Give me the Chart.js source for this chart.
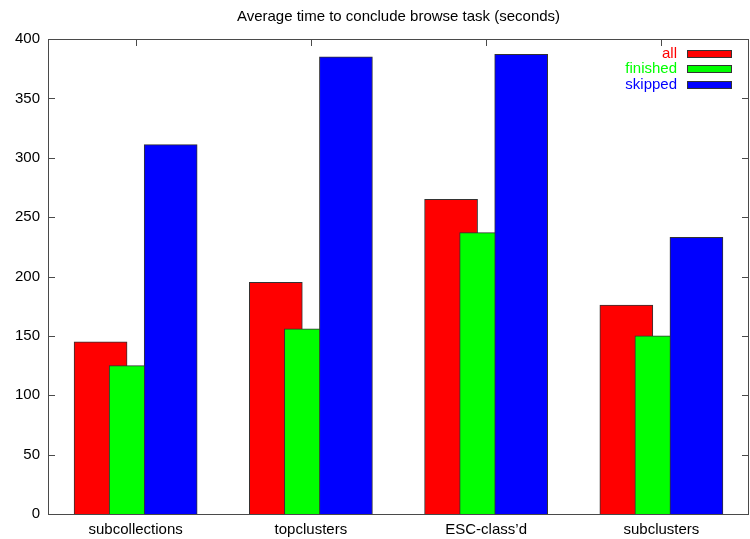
<!DOCTYPE html>
<html>
<head>
<meta charset="utf-8">
<script src="https://cdn.jsdelivr.net/npm/chart.js@4"></script>
<style>
  html, body { margin: 0; padding: 0; background: #fff; }
  #wrap { width: 750px; height: 539px; position: relative; }
</style>
</head>
<body>
<div id="wrap"><canvas id="c"></canvas></div>
<script>
  // ── Data ──
  var TITLE = 'Average time to conclude browse task (seconds)';
  var CATEGORIES = ['subcollections', 'topclusters', 'ESC-class\u2019d', 'subclusters'];
  var ALL      = [145, 195, 265, 176];
  var FINISHED = [125, 156, 237, 150];
  var SKIPPED  = [311, 385, 387, 233];
  var Y_TICKS  = [0, 50, 100, 150, 200, 250, 300, 350, 400];

  var FONT = '"Liberation Sans", Arial, Helvetica, sans-serif';
  var FONT_SIZE = 15;
  var AXIS_COLOR = '#4a4a4a';

  // series table built from the arrays above
  var SERIES = [
    { label: 'all',      values: ALL,      color: '#ff0000', shift: -0.2 },
    { label: 'finished', values: FINISHED, color: '#00ff00', shift: 0 },
    { label: 'skipped',  values: SKIPPED,  color: '#0000ff', shift: 0.2 }
  ];

  // later series are painted over earlier ones (gnuplot style), so lower order = on top
  var datasets = SERIES.map(function (s, k) {
    return {
      label: s.label,
      data: s.values.map(function (v, i) { return { x: i + 0.5 + s.shift, y: v }; }),
      backgroundColor: s.color,
      borderColor: '#333333',
      borderWidth: 1,
      barThickness: 53,
      grouped: false,
      order: SERIES.length - k
    };
  });

  // frame, inward ticks, title and gnuplot-style key
  var gnuplotDecor = {
    id: 'gnuplotDecor',
    beforeDatasetsDraw: function (chart) {
      var ctx = chart.ctx, a = chart.chartArea;
      var xs = chart.scales.x, ys = chart.scales.y;
      ctx.save();
      ctx.strokeStyle = AXIS_COLOR;
      ctx.lineWidth = 1;
      ctx.beginPath();
      Y_TICKS.forEach(function (t) {
        var y = Math.round(ys.getPixelForValue(t)) + 0.5;
        ctx.moveTo(a.left, y); ctx.lineTo(a.left + 7, y);
        ctx.moveTo(a.right, y); ctx.lineTo(a.right - 7, y);
      });
      CATEGORIES.forEach(function (c, i) {
        var x = Math.round(xs.getPixelForValue(i + 0.5)) + 0.5;
        ctx.moveTo(x, a.top); ctx.lineTo(x, a.top + 7);
        ctx.moveTo(x, a.bottom); ctx.lineTo(x, a.bottom - 7);
      });
      ctx.stroke();
      ctx.restore();
    },
    afterDraw: function (chart) {
      var ctx = chart.ctx, a = chart.chartArea;
      ctx.save();
      ctx.strokeStyle = AXIS_COLOR;
      ctx.lineWidth = 1;
      ctx.strokeRect(Math.round(a.left) + 0.5, Math.round(a.top) + 0.5,
        Math.round(a.right - a.left) - 1, Math.round(a.bottom - a.top));

      // title
      ctx.fillStyle = '#000';
      ctx.font = FONT_SIZE + 'px ' + FONT;
      ctx.textAlign = 'center';
      ctx.textBaseline = 'middle';
      ctx.fillText(TITLE, (a.left + a.right) / 2, 17);

      // key
      ctx.textAlign = 'right';
      SERIES.forEach(function (s, i) {
        var y = 53.5 + i * 15.5;
        ctx.fillStyle = s.color;
        ctx.fillText(s.label, 677, y);
        ctx.fillRect(687, Math.round(y) - 3, 45, 7);
        ctx.strokeStyle = '#333';
        ctx.strokeRect(687.5, Math.round(y) - 3.5, 44, 7);
      });
      ctx.restore();
    }
  };

  new Chart(document.getElementById('c'), {
    type: 'bar',
    data: { datasets: datasets },
    plugins: [gnuplotDecor],
    options: {
      responsive: true,
      maintainAspectRatio: false,
      animation: false,
      layout: { padding: { top: 39, right: 1, left: 0, bottom: 0 } },
      plugins: {
        legend: { display: false },
        tooltip: { enabled: false },
        title: { display: false }
      },
      scales: {
        x: {
          type: 'linear',
          offset: false,
          min: 0,
          max: CATEGORIES.length,
          afterBuildTicks: function (scale) {
            scale.ticks = CATEGORIES.map(function (c, i) { return { value: i + 0.5 }; });
          },
          afterFit: function (scale) { scale.height = 25; },
          grid: { display: false, drawTicks: false, offset: false },
          border: { display: false },
          ticks: {
            autoSkip: false,
            maxRotation: 0,
            padding: 7,
            color: '#000',
            font: { family: FONT, size: FONT_SIZE },
            callback: function (v, i) { return CATEGORIES[i]; }
          }
        },
        y: {
          min: 0,
          max: 400,
          afterBuildTicks: function (scale) {
            scale.ticks = Y_TICKS.map(function (t) { return { value: t }; });
          },
          afterFit: function (scale) { scale.width = 48; },
          grid: { display: false, drawTicks: false },
          border: { display: false },
          ticks: {
            padding: 8,
            color: '#000',
            font: { family: FONT, size: FONT_SIZE }
          }
        }
      }
    }
  });
</script>
</body>
</html>
